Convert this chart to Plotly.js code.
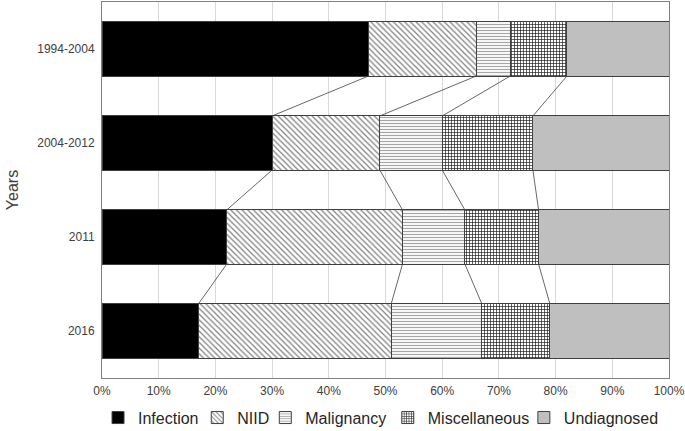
<!DOCTYPE html>
<html>
<head>
<meta charset="utf-8">
<script src="https://cdn.plot.ly/plotly-3.0.1.min.js"></script>
<style>html,body{margin:0;padding:0;background:#fff;}#chart{width:685px;height:431px;}</style>
</head>
<body>
<div id="chart"></div>
<script>
// Data (percent of cases)
const periods = ["1994-2004", "2004-2012", "2011", "2016"];
const infection = [47, 30, 22, 17];
const niid = [19, 19, 31, 34];
const malignancy = [6, 11, 11, 16];
const miscellaneous = [10, 16, 13, 12];
const undiagnosed = [18, 24, 23, 21];
const seriesNames = ["Infection", "NIID", "Malignancy", "Miscellaneous", "Undiagnosed"];
const xTicks = [0, 10, 20, 30, 40, 50, 60, 70, 80, 90, 100];

const allSeries = [infection, niid, malignancy, miscellaneous, undiagnosed];
const yPos = periods.map((p, i) => i);
const barWidth = 0.575;
const outline = {color: "#404040", width: 1};

const styles = [
  {color: "#000000"},
  {color: "#ffffff", pattern: {shape: "\\", fgcolor: "#7f7f7f", bgcolor: "#ffffff", size: 4, solidity: 0.3}},
  {color: "#ffffff", pattern: {shape: "-", fgcolor: "#a6a6a6", bgcolor: "#ffffff", size: 3, solidity: 0.4}},
  {color: "#ffffff", pattern: {shape: "+", fgcolor: "#1a1a1a", bgcolor: "#ffffff", size: 3, solidity: 0.4}},
  {color: "#bfbfbf"}
];

const legendIds = ["legend", "legend2", "legend3", "legend4", "legend5"];
const traces = allSeries.map((vals, k) => ({
  type: "bar",
  orientation: "h",
  name: seriesNames[k],
  x: vals,
  y: yPos,
  width: barWidth,
  legend: legendIds[k],
  marker: Object.assign({line: outline}, styles[k]),
  hoverinfo: "x+name"
}));

// Series connector lines between consecutive bars, from cumulative boundaries
const cum = periods.map((p, i) => {
  let s = 0; const out = [];
  for (let k = 0; k < allSeries.length - 1; k++) { s += allSeries[k][i]; out.push(s); }
  return out;
});
const lx = [], ly = [];
for (let i = 0; i < periods.length - 1; i++) {
  for (let j = 0; j < cum[i].length; j++) {
    lx.push(cum[i][j], cum[i + 1][j], null);
    ly.push(i + barWidth / 2, i + 1 - barWidth / 2, null);
  }
}
traces.push({
  type: "scatter", mode: "lines", x: lx, y: ly,
  line: {color: "#404040", width: 0.8}, showlegend: false, hoverinfo: "skip"
});

const font = "Liberation Sans, Arial, sans-serif";
// legend horizontal anchors (paper fraction), one entry per legend box
const legendX = [-0.007, 0.168, 0.288, 0.504, 0.744];
const layout = {
  width: 685, height: 431,
  margin: {l: 102, r: 16, t: 2, b: 53},
  barmode: "stack",
  paper_bgcolor: "#ffffff",
  plot_bgcolor: "#ffffff",
  font: {family: font, size: 12, color: "#404040"},
  xaxis: {
    range: [0, 100],
    tickvals: xTicks,
    ticktext: xTicks.map(v => v + "%"),
    showgrid: true, gridcolor: "#d9d9d9", gridwidth: 1,
    zeroline: false,
    showline: true, linecolor: "#808080", linewidth: 1, mirror: true,
    ticks: "", tickfont: {size: 12, color: "#404040"},
    ticklabelstandoff: 2,
    fixedrange: true
  },
  yaxis: {
    range: [periods.length - 0.5, -0.5],
    tickvals: yPos,
    ticktext: periods,
    showgrid: false, zeroline: false,
    showline: true, linecolor: "#808080", linewidth: 1, mirror: true,
    ticks: "", tickfont: {size: 12, color: "#404040"},
    ticklabelstandoff: 4,
    title: {text: "Years", font: {size: 16, color: "#404040"}, standoff: 14},
    fixedrange: true
  },
  showlegend: true
};
legendIds.forEach((id, k) => {
  layout[id] = {
    orientation: "h", x: legendX[k], xanchor: "left",
    yref: "container", y: 0.031, yanchor: "middle",
    font: {size: 16, color: "#262626"}, itemwidth: 30,
    bgcolor: "rgba(0,0,0,0)", borderwidth: 0
  };
});

Plotly.newPlot("chart", traces, layout, {displayModeBar: false, staticPlot: true});
</script>
</body>
</html>
